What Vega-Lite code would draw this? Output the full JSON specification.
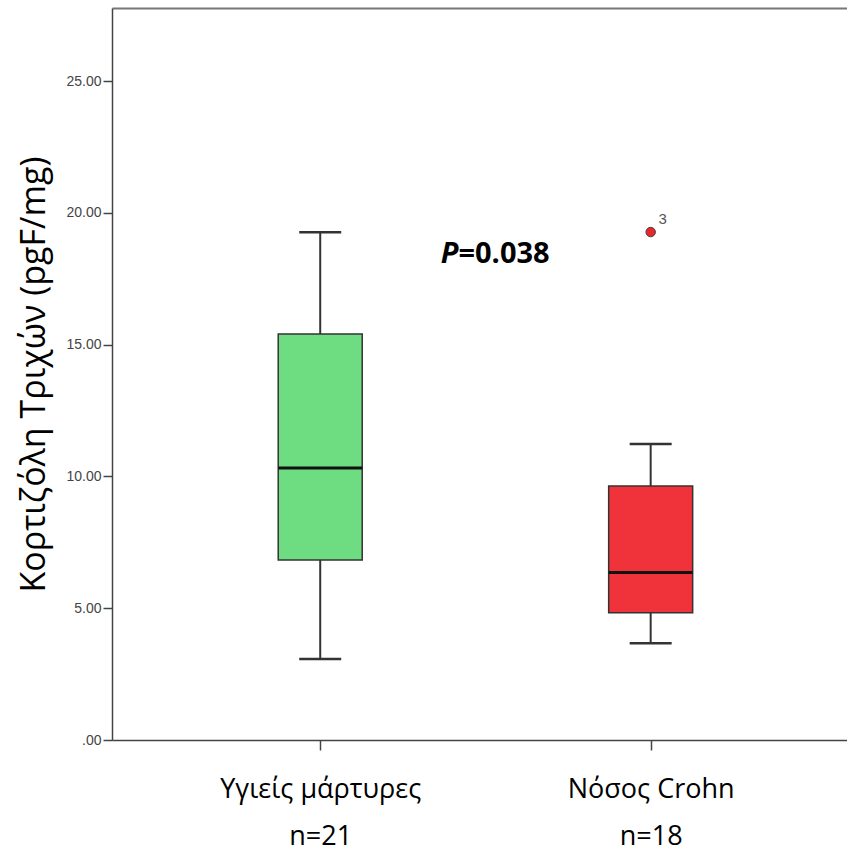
{
  "$schema": "https://vega.github.io/schema/vega-lite/v6.json",
  "width": 735,
  "height": 732,
  "autosize": {"type": "none"},
  "padding": {"left": 112, "top": 8, "right": 0, "bottom": 116},
  "background": "white",
  "view": {"stroke": null},
  "config": {"font": "Open Sans"},
  "datasets": {
    "boxes": [
      {"g": 1, "label": "Υγιείς μάρτυρες", "n": 21, "min": 3.07, "q1": 6.83, "median": 10.32, "q3": 15.40, "max": 19.26},
      {"g": 2, "label": "Νόσος Crohn", "n": 18, "min": 3.67, "q1": 4.83, "median": 6.35, "q3": 9.64, "max": 11.23}
    ],
    "outliers": [
      {"g": 2, "value": 19.27, "id": "3"}
    ],
    "notes": [
      {"g": 1.5, "y": 18.44, "p": "P", "rest": "=0.038"}
    ]
  },
  "layer": [
    {
      "data": {"name": "boxes"},
      "mark": {"type": "rule", "color": "#333333", "strokeWidth": 2},
      "encoding": {
        "x": {
          "field": "g", "type": "quantitative",
          "scale": {"domain": [0.385, 2.579], "nice": false, "zero": false},
          "axis": {
            "values": [1, 2],
            "labelExpr": "datum.value == 1 ? ['Υγιείς μάρτυρες','n=21'] : ['Νόσος Crohn','n=18']",
            "labelFont": "Open Sans",
            "labelFontSize": 27,
            "labelLimit": 0,
            "labelColor": "#000000",
            "labelLineHeight": 47,
            "labelPadding": 26,
            "tickSize": 10,
            "tickWidth": 1.5,
            "tickColor": "#444444",
            "domainColor": "#444444",
            "domainWidth": 1.5,
            "title": null,
            "grid": false
          }
        },
        "y": {
          "field": "min", "type": "quantitative",
          "scale": {"domain": [0, 27.77], "nice": false},
          "axis": {
            "title": "Κορτιζόλη Τριχών (pgF/mg)",
            "values": [0, 5, 10, 15, 20, 25],
            "labelExpr": "datum.value == 0 ? '.00' : format(datum.value, '.2f')",
            "labelFont": "Liberation Sans",
            "labelFontSize": 14,
            "labelColor": "#444444",
            "labelPadding": 2,
            "tickSize": 9,
            "tickWidth": 1.5,
            "tickColor": "#444444",
            "domainColor": "#444444",
            "domainWidth": 1.5,
            "titleFont": "Open Sans",
            "titleFontSize": 34,
            "titleFontWeight": "normal",
            "titleColor": "#000000",
            "titlePadding": 14,
            "grid": false
          }
        },
        "y2": {"field": "max"}
      }
    },
    {
      "data": {"name": "boxes"},
      "mark": {"type": "tick", "orient": "horizontal", "size": 42, "thickness": 2.5, "color": "#333333", "opacity": 1},
      "encoding": {
        "x": {"field": "g", "type": "quantitative", "axis": null},
        "y": {"field": "min", "type": "quantitative", "title": "Κορτιζόλη Τριχών (pgF/mg)"}
      }
    },
    {
      "data": {"name": "boxes"},
      "mark": {"type": "tick", "orient": "horizontal", "size": 42, "thickness": 2.5, "color": "#333333", "opacity": 1},
      "encoding": {
        "x": {"field": "g", "type": "quantitative", "axis": null},
        "y": {"field": "max", "type": "quantitative", "title": "Κορτιζόλη Τριχών (pgF/mg)"}
      }
    },
    {
      "data": {"name": "boxes"},
      "mark": {"type": "bar", "orient": "vertical", "size": 84, "stroke": "#333333", "strokeWidth": 1.5, "opacity": 1},
      "encoding": {
        "x": {"field": "g", "type": "quantitative", "axis": null},
        "y": {"field": "q1", "type": "quantitative", "title": "Κορτιζόλη Τριχών (pgF/mg)"},
        "y2": {"field": "q3"},
        "fill": {
          "field": "label", "type": "nominal",
          "scale": {"domain": ["Υγιείς μάρτυρες", "Νόσος Crohn"], "range": ["#6EDC80", "#F0323A"]},
          "legend": null
        }
      }
    },
    {
      "data": {"name": "boxes"},
      "mark": {"type": "tick", "orient": "horizontal", "size": 84, "thickness": 3, "color": "#111111", "opacity": 1},
      "encoding": {
        "x": {"field": "g", "type": "quantitative", "axis": null},
        "y": {"field": "median", "type": "quantitative", "title": "Κορτιζόλη Τριχών (pgF/mg)"}
      }
    },
    {
      "data": {"name": "outliers"},
      "mark": {"type": "point", "filled": true, "size": 90, "fill": "#E8262E", "stroke": "#444444", "strokeWidth": 1, "opacity": 1},
      "encoding": {
        "x": {"field": "g", "type": "quantitative", "axis": null},
        "y": {"field": "value", "type": "quantitative", "title": "Κορτιζόλη Τριχών (pgF/mg)"}
      }
    },
    {
      "data": {"name": "outliers"},
      "mark": {"type": "text", "dx": 12, "dy": -13, "fontSize": 15, "font": "Liberation Sans", "color": "#555555"},
      "encoding": {
        "x": {"field": "g", "type": "quantitative", "axis": null},
        "y": {"field": "value", "type": "quantitative", "title": "Κορτιζόλη Τριχών (pgF/mg)"},
        "text": {"field": "id"}
      }
    },
    {
      "data": {"name": "notes"},
      "mark": {"type": "text", "align": "right", "baseline": "middle", "dx": -27, "fontSize": 29, "fontWeight": "bold", "fontStyle": "italic", "font": "Open Sans", "color": "#000000"},
      "encoding": {
        "x": {
          "field": "g", "type": "quantitative",
          "axis": {"orient": "top", "domain": true, "domainColor": "#777777", "domainWidth": 2, "ticks": false, "labels": false, "title": null, "grid": false}
        },
        "y": {"field": "y", "type": "quantitative", "title": "Κορτιζόλη Τριχών (pgF/mg)"},
        "text": {"field": "p"}
      }
    },
    {
      "data": {"name": "notes"},
      "mark": {"type": "text", "align": "left", "baseline": "middle", "dx": -27, "fontSize": 29, "fontWeight": "bold", "font": "Open Sans", "color": "#000000"},
      "encoding": {
        "x": {"field": "g", "type": "quantitative", "axis": null},
        "y": {"field": "y", "type": "quantitative", "title": "Κορτιζόλη Τριχών (pgF/mg)"},
        "text": {"field": "rest"}
      }
    }
  ],
  "resolve": {"axis": {"x": "independent"}}
}
